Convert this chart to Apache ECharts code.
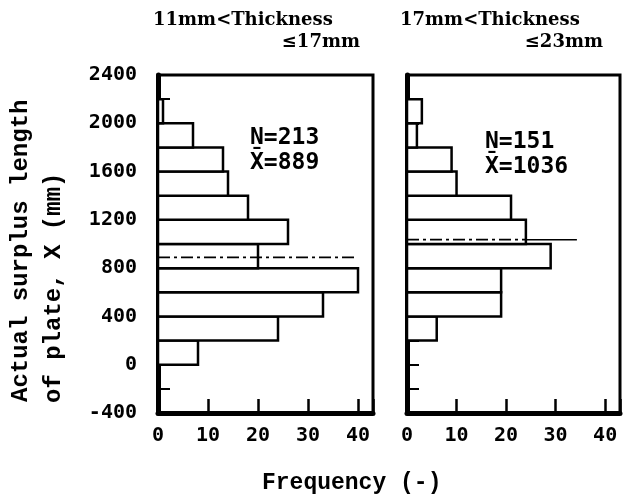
<!DOCTYPE html>
<html>
<head>
<meta charset="utf-8">
<script src="https://cdn.jsdelivr.net/npm/echarts@6/dist/echarts.min.js"></script>
<style>
  html, body { margin: 0; padding: 0; background: #fff; }
  #chart { width: 635px; height: 499px; }
</style>
</head>
<body>
<div id="chart"></div>
<script>
// bin starts (mm), each bin is 200 mm wide
const binStarts = [0, 200, 400, 600, 800, 1000, 1200, 1400, 1600, 1800, 2000];
const binWidth = 200;
// frequencies, 11mm < t <= 17mm
const freqThin = [8, 24, 33, 40, 20, 26, 18, 14, 13, 7, 1];
// frequencies, 17mm < t <= 23mm
const freqThick = [0, 6, 19, 19, 29, 24, 21, 10, 9, 2, 3];
const nThin = 213, meanThin = 889;
const nThick = 151, meanThick = 1036;

const MONO = '"DejaVu Sans Mono", monospace';
const TYPE = '"Liberation Mono", monospace';

function toBins(freq) {
    return binStarts.map((s, i) => [s, s + binWidth, freq[i]]).filter(d => d[2] > 0);
}

function renderBin(params, api) {
    let lo = api.value(0), hi = api.value(1), f = api.value(2);
    let a = api.coord([0, hi]);
    let b = api.coord([f, lo]);
    return {
        type: 'rect',
        shape: { x: a[0], y: a[1], width: b[0] - a[0], height: b[1] - a[1] },
        style: { fill: '#fff', stroke: '#000', lineWidth: 2.5 }
    };
}

function xAx(grid) {
    return {
        gridIndex: grid, type: 'value', min: 0, max: 43, interval: 10,
        axisLine: { show: true, onZero: false, lineStyle: { color: '#000', width: 5 } },
        axisTick: { show: true, inside: true, length: 14, lineStyle: { color: '#000', width: 2.5 } },
        axisLabel: {
            margin: 13, color: '#000', fontSize: 20, fontWeight: 'bold', fontFamily: MONO,
            formatter: v => (v % 10 === 0 ? String(v) : '')
        },
        splitLine: { show: false }
    };
}

function yAx(grid, showLabel) {
    return {
        gridIndex: grid, type: 'value', min: -400, max: 2400, interval: 200,
        axisLine: { show: true, onZero: false, lineStyle: { color: '#000', width: 5 } },
        axisTick: { show: true, inside: true, length: 12, lineStyle: { color: '#000', width: 2 } },
        axisLabel: {
            show: showLabel, margin: 21, color: '#000', fontSize: 20, fontWeight: 'bold', fontFamily: MONO,
            formatter: v => (v % 400 === 0 ? String(v) : '')
        },
        splitLine: { show: false }
    };
}

function txt(x, y, s, font, size, align, rot) {
    return {
        type: 'text', x: x, y: y, rotation: rot || 0, z: 10,
        style: { text: s, fill: '#000', font: 'bold ' + size + 'px ' + font, textAlign: align || 'left', textVerticalAlign: 'middle' }
    };
}

const dashDot = [12, 4, 3, 4];

let option = {
    animation: false,
    backgroundColor: '#fff',
    grid: [
        { left: 158, top: 75, width: 215, height: 338, show: true, borderColor: '#000', borderWidth: 3 },
        { left: 407, top: 75, width: 213, height: 338, show: true, borderColor: '#000', borderWidth: 3 }
    ],
    xAxis: [xAx(0), xAx(1)],
    yAxis: [yAx(0, true), yAx(1, false)],
    series: [
        { type: 'custom', xAxisIndex: 0, yAxisIndex: 0, renderItem: renderBin, encode: { x: 2, y: [0, 1] }, data: toBins(freqThin) },
        { type: 'custom', xAxisIndex: 1, yAxisIndex: 1, renderItem: renderBin, encode: { x: 2, y: [0, 1] }, data: toBins(freqThick) },
        {
            type: 'line', xAxisIndex: 0, yAxisIndex: 0, symbol: 'none', z: 5,
            lineStyle: { color: '#000', width: 1.8, type: dashDot },
            data: [[0, meanThin], [39.2, meanThin]]
        },
        {
            type: 'line', xAxisIndex: 1, yAxisIndex: 1, symbol: 'none', z: 5,
            lineStyle: { color: '#000', width: 1.8, type: dashDot },
            data: [[0, meanThick], [24, meanThick]]
        },
        {
            type: 'line', xAxisIndex: 1, yAxisIndex: 1, symbol: 'none', z: 5,
            lineStyle: { color: '#000', width: 1.5 },
            data: [[24, meanThick], [34.3, meanThick]]
        }
    ],
    graphic: [
        txt(153, 20, '11mm<Thickness', '"DejaVu Serif", serif', 18),
        txt(360, 42, '\u226417mm', '"DejaVu Serif", serif', 18, 'right'),
        txt(400, 20, '17mm<Thickness', '"DejaVu Serif", serif', 18),
        txt(603, 42, '\u226423mm', '"DejaVu Serif", serif', 18, 'right'),
        txt(250, 138, 'N=' + nThin, MONO, 23),
        txt(250, 163, 'X\u0304=' + meanThin, MONO, 23),
        txt(485, 142, 'N=' + nThick, MONO, 23),
        txt(485, 167, 'X\u0304=' + meanThick, MONO, 23),
        txt(21, 402, 'Actual surplus length', TYPE, 24, 'left', Math.PI / 2),
        txt(54, 403, 'of plate, X (mm)', TYPE, 24, 'left', Math.PI / 2),
        txt(262, 483, 'Frequency (-)', TYPE, 23)
    ]
};

let myChart = echarts.init(document.getElementById('chart'));
myChart.setOption(option);
</script>
</body>
</html>
